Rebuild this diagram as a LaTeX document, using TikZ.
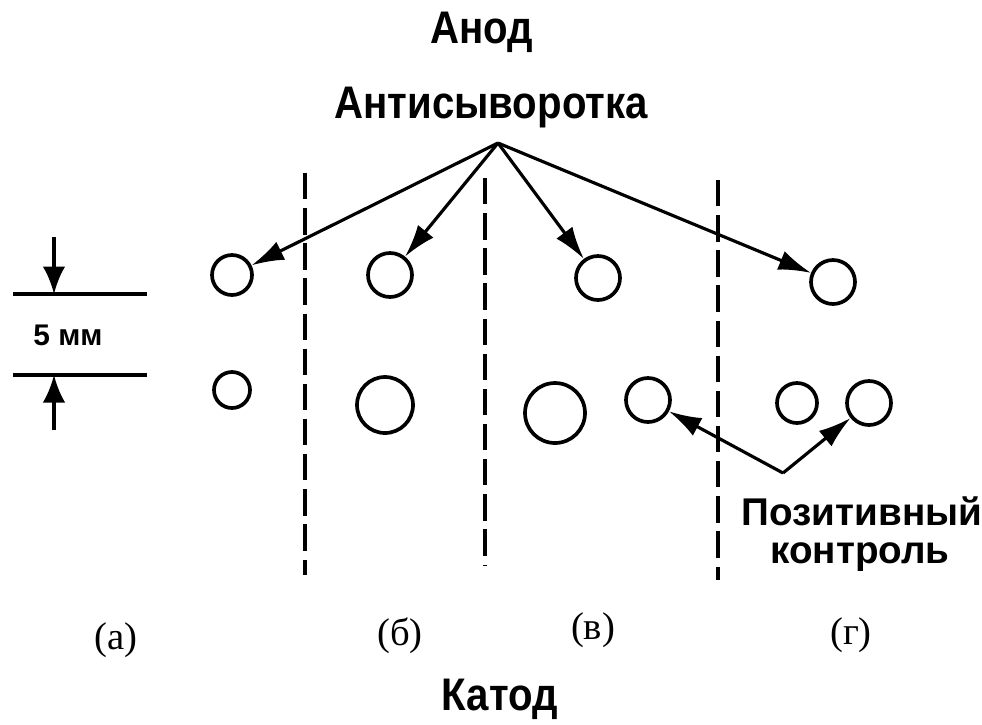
\documentclass[tikz,border=0pt]{standalone}
\usepackage{fontspec}
\setmainfont{Liberation Serif}
\setsansfont{Liberation Sans}
\newfontfamily\narrowsans[FakeStretch=0.88]{Liberation Sans}
\usetikzlibrary{arrows.meta,positioning}

\begin{document}
\begin{tikzpicture}[x=0.02cm,y=-0.02cm,
        well/.style={draw,circle,line width=2.1pt,inner sep=0pt,minimum size=#1},
        well/.default=0.8cm,
        feed/.style={line width=1.8pt,-{Latex[length=6.5mm,width=4mm]}},
        lane/.style={line width=2.2pt,dash pattern=on 15pt off 5pt},
        dim/.style={line width=1.8pt},
        lbl/.style={font=\narrowsans\bfseries\fontsize{26}{30}\selectfont,anchor=base},
        note/.style={font=\sffamily\bfseries\fontsize{22}{26}\selectfont,anchor=base},
        tag/.style={font=\fontsize{22}{26}\selectfont}
      ]
        \useasboundingbox (0,0) rectangle (982,724);
        \node[lbl] (anode) at (482,43) {Анод};
        \node[lbl] (serum) at (491,118) {Антисыворотка};
        \coordinate (apex) at (498,143);
        \node[well=0.8cm]  (a1) at (232,275) {};
        \node[well=0.88cm] (b1) at (390,275) {};
        \node[well=0.88cm] (c1) at (598,278) {};
        \node[well=0.88cm] (d1) at (833,282) {};
        \node[well=0.72cm] (a2) at (232,390) {};
        \node[well=1.12cm] (b2) at (385,405) {};
        \node[well=1.2cm]  (c2) at (555,413) {};
        \node[well=0.88cm] (ctrl1) at (648,400) {};
        \node[well=0.8cm]  (d2) at (797,403) {};
        \node[well=0.88cm] (ctrl2) at (869,403) {};
        \draw[feed] (apex) -- (a1);
        \draw[feed] (apex) -- (b1);
        \draw[feed] (apex) -- (c1);
        \draw[feed] (apex) -- (d1);
        \draw[lane] (305,173) -- (305,575);
        \draw[lane] (485,178) -- (485,565);
        \draw[lane] (718,180) -- (718,580);
        \coordinate (join) at (783,473);
        \draw[feed] (join) -- (ctrl1);
        \draw[feed] (join) -- (ctrl2);
        \node[note] (pos1) at (862,525) {Позитивный};
        \node[note] (pos2) at (860,563) {контроль};
        \draw[dim] (13,294) -- (147,294);
        \draw[dim] (13,375) -- (147,375);
        \draw[dim,-{Latex[length=5.5mm,width=4.5mm]}] (54,237) -- (54,294);
        \draw[dim,-{Latex[length=5.5mm,width=4.5mm]}] (54,430) -- (54,375);
        \node[note,font=\sffamily\bfseries\fontsize{17}{20}\selectfont] (gap) at (68,345) {5 мм};
        \node[tag] (la) at (116,640) {(а)};
        \node[tag] (lb) at (400,636) {(б)};
        \node[tag] (lc) at (593,630) {(в)};
        \node[tag] (ld) at (851,635) {(г)};
        \node[lbl] (cathode) at (500,710) {Катод};
      \end{tikzpicture}
\end{document}
